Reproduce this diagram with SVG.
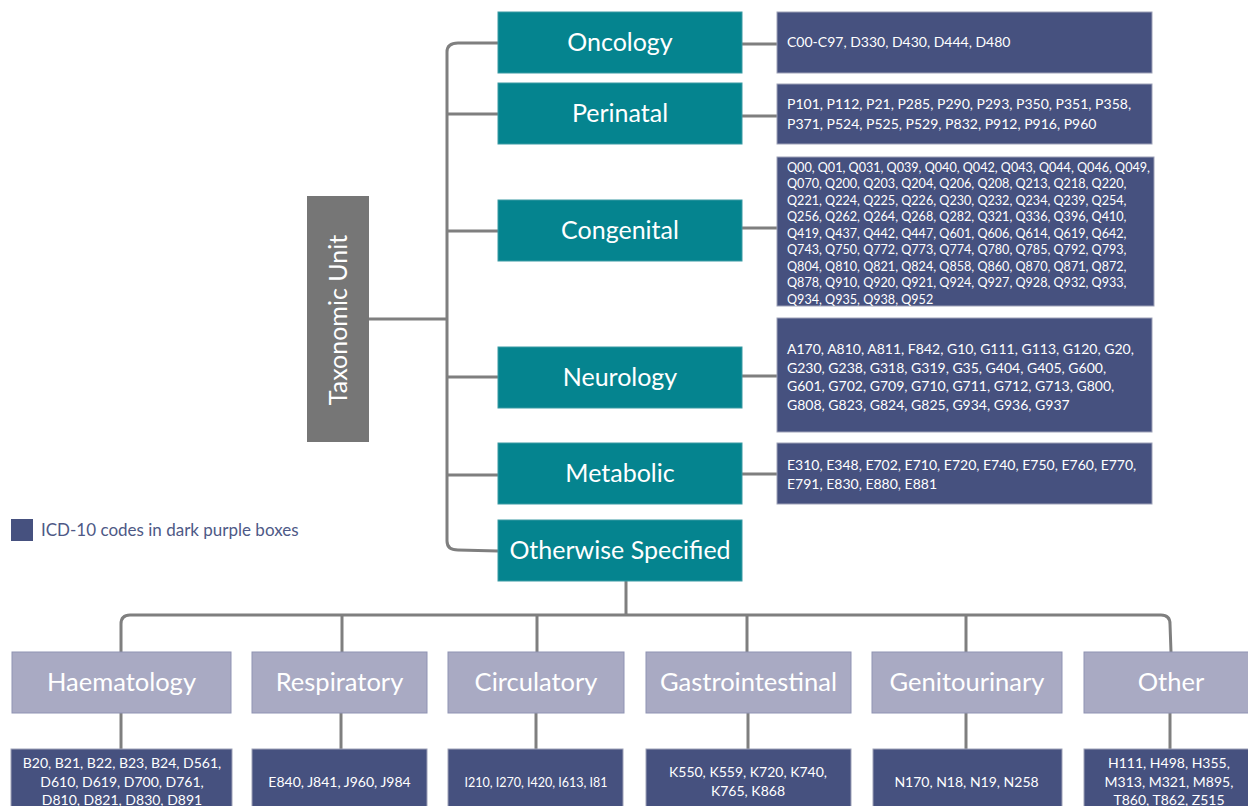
<svg xmlns="http://www.w3.org/2000/svg" width="1248" height="806" viewBox="0 0 1248 806">
<style>
.tax{fill:#767676}
.teal{fill:#05848F;stroke:#3a9aa3;stroke-width:1}
.lav{fill:#A9AAC3;stroke:#8f93b3;stroke-width:1}
.code{fill:#46517F;stroke:#9ea2b8;stroke-width:1}
.lbl{font-family:Lato,"Open Sans",sans-serif;fill:#fff;text-anchor:middle}
.big{font-size:25px}
.big2{font-size:25.5px}
.ct{font-family:Lato,"Open Sans",sans-serif;fill:#fff;font-size:14px}
.ctc{font-family:Lato,"Open Sans",sans-serif;fill:#fff;font-size:12.6px}
.cm{font-family:Lato,"Open Sans",sans-serif;fill:#fff;font-size:14px;text-anchor:middle}
.con{fill:none;stroke:#7F7F7F;stroke-width:3}
</style>
<rect width="1248" height="806" fill="#fff"/>
<g id="connectors">
<path class="con" d="M498,43 L458,43 Q447,43 447,52 L447,541 Q447,550 458,550 L498,551"/>
<line class="con" x1="369" y1="319" x2="447" y2="319"/>
<line class="con" x1="447" y1="114" x2="498" y2="114"/>
<line class="con" x1="447" y1="231" x2="498" y2="231"/>
<line class="con" x1="447" y1="377" x2="498" y2="377"/>
<line class="con" x1="447" y1="475" x2="498" y2="475"/>
<line class="con" x1="742" y1="44" x2="777" y2="44"/>
<line class="con" x1="742" y1="116" x2="777" y2="116"/>
<line class="con" x1="742" y1="228" x2="777" y2="228"/>
<line class="con" x1="742" y1="376" x2="777" y2="376"/>
<line class="con" x1="742" y1="474" x2="777" y2="474"/>
<line class="con" x1="626" y1="581" x2="626" y2="615"/>
<path class="con" d="M121,652 L121,624 Q121,615 130,615 L1161,615 Q1170,615 1170,624 L1171,652"/>
<line class="con" x1="342" y1="615" x2="342" y2="652"/>
<line class="con" x1="537" y1="615" x2="537" y2="652"/>
<line class="con" x1="747" y1="615" x2="747" y2="652"/>
<line class="con" x1="966" y1="615" x2="966" y2="652"/>
<line class="con" x1="121" y1="713" x2="121" y2="749"/>
<line class="con" x1="341" y1="713" x2="341" y2="749"/>
<line class="con" x1="536" y1="713" x2="536" y2="749"/>
<line class="con" x1="748" y1="713" x2="748" y2="749"/>
<line class="con" x1="966" y1="713" x2="966" y2="749"/>
<line class="con" x1="1170" y1="713" x2="1170" y2="749"/>
</g>
<g id="taxonomic-unit">
<rect class="tax" x="307" y="196" width="62" height="246"/>
<text class="lbl big" transform="translate(347,320) rotate(-90)">Taxonomic Unit</text>
</g>
<g id="oncology"><rect class="teal" x="498" y="12" width="244" height="61"/><text class="lbl big" x="620" y="51">Oncology</text></g>
<g id="perinatal"><rect class="teal" x="498" y="83" width="244" height="61"/><text class="lbl big" x="620" y="122">Perinatal</text></g>
<g id="congenital"><rect class="teal" x="498" y="200" width="244" height="61"/><text class="lbl big" x="620" y="239">Congenital</text></g>
<g id="neurology"><rect class="teal" x="498" y="347" width="244" height="61"/><text class="lbl big" x="620" y="386">Neurology</text></g>
<g id="metabolic"><rect class="teal" x="498" y="443" width="244" height="61"/><text class="lbl big" x="620" y="482">Metabolic</text></g>
<g id="otherwise-specified"><rect class="teal" x="498" y="520" width="244" height="61"/><text class="lbl big" x="620" y="559">Otherwise Specified</text></g>

<g id="oncology-codes"><rect class="code" x="777" y="12" width="375" height="61"/><text class="ct" x="787" y="47">C00-C97, D330, D430, D444, D480</text></g>
<g id="perinatal-codes"><rect class="code" x="777" y="84" width="375" height="60"/>
<text class="ct" x="787" y="109">P101, P112, P21, P285, P290, P293, P350, P351, P358,</text>
<text class="ct" x="787" y="129">P371, P524, P525, P529, P832, P912, P916, P960</text></g>
<g id="congenital-codes"><rect class="code" x="777" y="157" width="377" height="149"/>
<text class="ctc" x="787" y="171.5">Q00, Q01, Q031, Q039, Q040, Q042, Q043, Q044, Q046, Q049,</text>
<text class="ctc" x="787" y="188">Q070, Q200, Q203, Q204, Q206, Q208, Q213, Q218, Q220,</text>
<text class="ctc" x="787" y="204.5">Q221, Q224, Q225, Q226, Q230, Q232, Q234, Q239, Q254,</text>
<text class="ctc" x="787" y="221">Q256, Q262, Q264, Q268, Q282, Q321, Q336, Q396, Q410,</text>
<text class="ctc" x="787" y="237.5">Q419, Q437, Q442, Q447, Q601, Q606, Q614, Q619, Q642,</text>
<text class="ctc" x="787" y="254">Q743, Q750, Q772, Q773, Q774, Q780, Q785, Q792, Q793,</text>
<text class="ctc" x="787" y="270.5">Q804, Q810, Q821, Q824, Q858, Q860, Q870, Q871, Q872,</text>
<text class="ctc" x="787" y="287">Q878, Q910, Q920, Q921, Q924, Q927, Q928, Q932, Q933,</text>
<text class="ctc" x="787" y="303.5">Q934, Q935, Q938, Q952</text></g>
<g id="neurology-codes"><rect class="code" x="777" y="318" width="375" height="114"/>
<text class="ct" x="787" y="354">A170, A810, A811, F842, G10, G111, G113, G120, G20,</text>
<text class="ct" x="787" y="372.5">G230, G238, G318, G319, G35, G404, G405, G600,</text>
<text class="ct" x="787" y="391">G601, G702, G709, G710, G711, G712, G713, G800,</text>
<text class="ct" x="787" y="409.5">G808, G823, G824, G825, G934, G936, G937</text></g>
<g id="metabolic-codes"><rect class="code" x="777" y="443" width="375" height="61"/>
<text class="ct" x="787" y="470">E310, E348, E702, E710, E720, E740, E750, E760, E770,</text>
<text class="ct" x="787" y="488.5">E791, E830, E880, E881</text></g>

<g id="legend"><rect x="11" y="519" width="22" height="22" fill="#46517F"/>
<text x="41" y="536" font-family="Lato,'Open Sans',sans-serif" font-size="17" fill="#4E5986">ICD-10 codes in dark purple boxes</text></g>

<g id="haematology"><rect class="lav" x="12" y="652" width="219" height="61"/><text class="lbl big2" x="121.5" y="691">Haematology</text></g>
<g id="respiratory"><rect class="lav" x="252" y="652" width="175" height="61"/><text class="lbl big2" x="339.5" y="691">Respiratory</text></g>
<g id="circulatory"><rect class="lav" x="448" y="652" width="176" height="61"/><text class="lbl big2" x="536" y="691">Circulatory</text></g>
<g id="gastrointestinal"><rect class="lav" x="646" y="652" width="205" height="61"/><text class="lbl big2" x="748.5" y="691">Gastrointestinal</text></g>
<g id="genitourinary"><rect class="lav" x="872" y="652" width="190" height="61"/><text class="lbl big2" x="967" y="691">Genitourinary</text></g>
<g id="other"><rect class="lav" x="1084" y="652" width="174" height="61"/><text class="lbl big2" x="1171" y="691">Other</text></g>

<g id="haematology-codes"><rect class="code" x="11" y="749" width="221" height="70"/>
<text class="cm" x="122" y="768">B20, B21, B22, B23, B24, D561,</text>
<text class="cm" x="122" y="786.5">D610, D619, D700, D761,</text>
<text class="cm" x="122" y="805">D810, D821, D830, D891</text></g>
<g id="respiratory-codes"><rect class="code" x="252" y="749" width="175" height="70"/>
<text class="cm" x="339.5" y="787">E840, J841, J960, J984</text></g>
<g id="circulatory-codes"><rect class="code" x="448" y="749" width="175" height="70"/>
<text class="cm" x="536" y="787" style="font-size:12.5px">I210, I270, I420, I613, I81</text></g>
<g id="gastrointestinal-codes"><rect class="code" x="646" y="749" width="205" height="70"/>
<text class="cm" x="748" y="777">K550, K559, K720, K740,</text>
<text class="cm" x="748" y="795.5">K765, K868</text></g>
<g id="genitourinary-codes"><rect class="code" x="873" y="749" width="189" height="70"/>
<text class="cm" x="966.5" y="787">N170, N18, N19, N258</text></g>
<g id="other-codes"><rect class="code" x="1084" y="749" width="174" height="70"/>
<text class="cm" x="1169" y="768">H111, H498, H355,</text>
<text class="cm" x="1169" y="786.5">M313, M321, M895,</text>
<text class="cm" x="1169" y="805">T860, T862, Z515</text></g>
</svg>
